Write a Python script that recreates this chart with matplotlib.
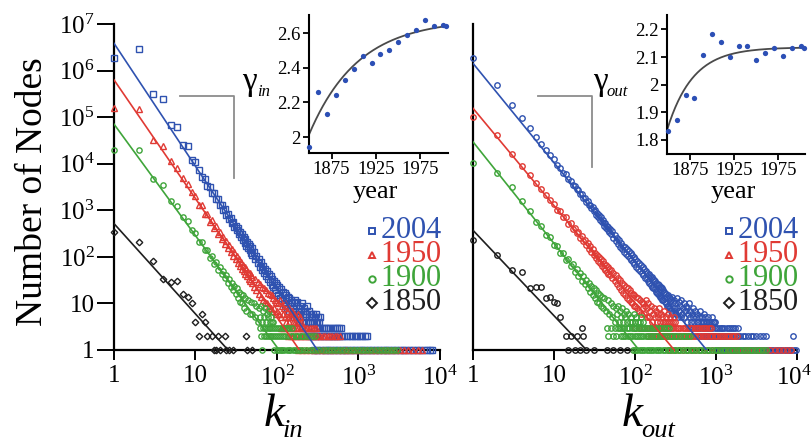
import numpy as np
import matplotlib
matplotlib.use("Agg")
import matplotlib.pyplot as plt
from matplotlib.lines import Line2D
from matplotlib.ticker import NullLocator
from matplotlib.transforms import ScaledTranslation

plt.rcParams.update({
    "font.family": ["Liberation Serif", "DejaVu Serif"],
    "mathtext.fontset": "custom",
    "mathtext.rm": "Liberation Serif",
    "mathtext.it": "Liberation Serif:italic",
    "mathtext.bf": "Liberation Serif:bold",
})

# ---------------- data ----------------
cohorts = [2004, 1950, 1900, 1850]
cohort_colors = ["#2f52b0", "#e03a34", "#3fa53a", "#1e1e1e"]
cohort_markers = ["s", "^", "o", "D"]

# exponent of the degree distribution per year
years = [1850, 1860, 1870, 1880, 1890, 1900, 1910, 1920, 1930, 1940,
         1950, 1960, 1970, 1980, 1990, 2000, 2004]
gamma_in = [1.94, 2.26, 2.135, 2.24, 2.33, 2.395, 2.47, 2.43, 2.477, 2.50,
            2.55, 2.587, 2.62, 2.677, 2.64, 2.645, 2.64]
gamma_out = [1.834, 1.872, 1.962, 1.95, 2.107, 2.182, 2.153, 2.10, 2.141, 2.141,
             2.089, 2.113, 2.131, 2.105, 2.134, 2.141, 2.134]

# saturating fits of gamma(year): (plateau, drop, time constant, start year)
gamma_in_fit = (2.68, 0.66, 55.0, 1850.0)
gamma_out_fit = (2.135, 0.30, 29.0, 1849.0)

# log10 of the power-law prefactor for each cohort (2004, 1950, 1900, 1850)
log_amp_in = [6.585, 5.80, 4.85, 2.714]
log_amp_out = [6.155, 5.19, 4.47, 2.57]

# ---- in-degree: (k, number of nodes); *_n3/_n2/_n1 = degrees held by 3/2/1 nodes
in_2004 = [(1, 1900000), (2, 2900000), (3, 310000), (4, 250000), (5, 69000), (6, 62000),
           (7, 25000), (8, 24000), (9, 12000), (10, 11000), (11, 7300), (12, 5100),
           (13, 4700), (14, 3400), (15, 3200), (16, 2400), (17, 2300), (18, 1750),
           (19, 1720), (20, 1320), (21, 1300), (22, 1020), (23, 1050), (24, 810),
           (25, 830), (26, 650), (27, 680), (28, 530), (29, 560), (30, 440), (31, 470),
           (32, 370), (33, 410), (34, 310), (35, 350), (36, 270), (37, 310), (38, 225),
           (39, 270), (40, 200), (41, 240), (42, 175), (43, 210), (44, 155), (45, 190),
           (46, 138), (47, 170), (48, 124), (49, 152), (50, 110), (52, 130), (54, 90),
           (56, 106), (58, 74), (60, 90), (62, 62), (64, 77), (66, 52), (68, 64), (70, 45),
           (72, 56), (74, 38), (76, 49), (78, 33), (80, 43), (82, 29), (84, 38), (86, 25),
           (88, 34), (90, 22), (92, 30), (94, 19), (96, 27), (98, 17), (100, 25), (103, 15),
           (106, 22), (109, 13), (112, 20), (115, 12), (118, 18), (121, 10), (124, 17),
           (127, 9), (130, 15), (133, 8), (136, 14), (139, 7), (142, 13), (145, 8),
           (148, 12), (151, 6), (154, 11), (157, 7), (160, 10), (163, 5), (166, 12),
           (169, 6), (172, 9), (175, 5), (178, 11), (181, 6), (184, 8), (187, 4), (190, 9),
           (194, 5), (198, 7), (202, 10), (206, 4), (210, 6), (214, 8), (218, 5), (222, 7),
           (226, 4), (230, 6), (235, 9), (240, 4), (245, 5), (250, 7), (255, 4), (260, 6),
           (266, 5), (272, 4), (278, 6), (284, 4), (290, 5), (297, 4), (304, 6), (311, 4),
           (318, 5), (326, 4), (334, 5)]
in_2004_n3 = [201, 223, 241, 263, 287, 309, 331, 353, 377, 401, 427, 453, 481, 511, 543,
              577, 613]
in_2004_n2 = [253, 279, 303, 341, 367, 397, 431, 467, 503, 541, 583, 627, 673, 723, 777,
              835, 897, 963, 1033, 1109, 1191, 1279]
in_2004_n1 = [283, 313, 347, 383, 421, 463, 509, 561, 619, 681, 751, 827, 911, 1003, 1105,
              1217, 1341, 1477, 1627, 1791, 1973, 2173, 2393, 2635, 2903, 3197, 3521, 3877,
              4271, 4703, 5179, 5703, 6281, 6917, 7617, 8011]

in_1950 = [(1, 160000), (2, 150000), (3, 33000), (4, 24000), (5, 11500), (6, 8000),
           (7, 5000), (8, 3700), (9, 2500), (10, 2000), (11, 1300), (12, 1280), (13, 850),
           (14, 850), (15, 560), (16, 610), (17, 410), (18, 450), (19, 310), (20, 345),
           (21, 240), (22, 270), (23, 190), (24, 218), (25, 155), (26, 178), (27, 128),
           (28, 148), (29, 105), (30, 125), (31, 88), (32, 106), (33, 75), (34, 90),
           (35, 64), (36, 78), (37, 56), (38, 68), (39, 50), (40, 60), (41, 43), (42, 54),
           (43, 38), (44, 48), (45, 33), (46, 44), (47, 30), (48, 40), (49, 27), (50, 37),
           (52, 23), (54, 33), (56, 19), (58, 29), (60, 16), (62, 26), (64, 14), (66, 23),
           (68, 12), (70, 21), (72, 11), (74, 19), (76, 10), (78, 17), (80, 9), (82, 16),
           (84, 8), (86, 15), (88, 7), (90, 13), (92, 8), (94, 12), (96, 6), (98, 11),
           (100, 7), (103, 10), (106, 6), (109, 12), (112, 5), (115, 9), (118, 6), (121, 8),
           (124, 5), (127, 10), (130, 4), (133, 7), (136, 5), (139, 8), (142, 4), (146, 6),
           (150, 5), (154, 7), (158, 4), (162, 6), (166, 4), (170, 5), (175, 4), (180, 6),
           (185, 4), (190, 5), (196, 4)]
in_1950_n3 = [111, 119, 131, 141, 151, 161, 171, 183, 195, 207, 221, 235, 251, 267, 285, 305]
in_1950_n2 = [135, 147, 157, 167, 177, 189, 199, 213, 227, 243, 259, 277, 297, 317, 339, 363,
              389, 417, 447, 479, 513, 549, 589]
in_1950_n1 = [179, 203, 229, 253, 283, 313, 353, 393, 443, 493, 553, 623, 703, 793, 893,
              1003, 1133, 1273, 1433, 1603, 1803, 2003, 2253, 2503, 2803, 3203, 3603, 4103,
              4703, 5303, 6003]

in_1900 = [(1, 20000), (2, 19500), (3, 4600), (4, 3500), (5, 1600), (6, 1250), (7, 700),
           (8, 600), (9, 380), (10, 320), (11, 210), (12, 205), (13, 140), (14, 142),
           (15, 96), (16, 104), (17, 70), (18, 79), (19, 53), (20, 61), (21, 43), (22, 49),
           (23, 35), (24, 40), (25, 28), (26, 33), (27, 23), (28, 28), (29, 19), (30, 24),
           (31, 16), (32, 21), (33, 13), (34, 18), (35, 11), (36, 16), (37, 10), (38, 15),
           (39, 8), (40, 13), (42, 7), (44, 12), (46, 6), (48, 11), (50, 6), (52, 10),
           (54, 5), (56, 9), (58, 4), (60, 8), (62, 5), (64, 9), (66, 4), (68, 7), (70, 5),
           (72, 8), (74, 4), (76, 6), (78, 5), (80, 7), (82, 4), (84, 5), (86, 4), (90, 4)]
in_1900_n3 = [61, 67, 71, 75, 79, 83, 87, 93, 97, 103, 109, 117, 125, 133, 141, 151]
in_1900_n2 = [63, 69, 73, 77, 81, 85, 89, 95, 99, 105, 111, 119, 127, 137, 147, 157, 169,
              181, 195, 211, 229, 249, 271, 295]
in_1900_n1 = [65, 91, 101, 107, 113, 115, 121, 131, 139, 145, 155, 165, 175, 185, 199, 215,
              231, 251, 275, 301, 331, 363, 397, 433, 473, 517, 565, 617, 673, 735, 803, 877,
              957, 1045, 1141, 1245, 1359, 1483, 1619, 1767, 1929, 2105, 2297, 2507, 2737,
              2987]

in_1850 = [(1, 340), (2, 210), (3, 82), (4, 34), (5, 29), (6, 30), (7, 16), (8, 14), (9, 10),
           (10, 4), (12, 6), (13, 4)]
in_1850_n3 = []
in_1850_n2 = [11, 14, 16, 19, 23, 42]
in_1850_n1 = [17, 18, 20, 24, 26, 29, 43, 49]

# ---- out-degree
out_2004 = [(1, 1900000), (2, 490000), (3, 180000), (4, 98000), (5, 58000), (6, 38000),
            (7, 26000), (8, 20000), (9, 15500), (10, 12500), (11, 9400), (12, 7900),
            (13, 6300), (14, 5900), (15, 4600), (16, 4300), (17, 3500), (18, 3400),
            (19, 2800), (20, 2700), (21, 2200), (22, 2200), (23, 1850), (24, 1850),
            (25, 1500), (26, 1560), (27, 1280), (28, 1330), (29, 1100), (30, 1150),
            (31, 960), (32, 1000), (33, 800), (34, 880), (35, 700), (36, 780), (37, 630),
            (38, 700), (39, 560), (40, 620), (41, 540), (42, 470), (43, 530), (44, 420),
            (45, 470), (46, 380), (47, 440), (48, 340), (49, 400), (50, 310), (52, 360),
            (54, 260), (56, 300), (58, 220), (60, 260), (62, 190), (64, 230), (66, 165),
            (68, 200), (70, 145), (72, 175), (74, 130), (76, 160), (78, 115), (80, 145),
            (82, 103), (84, 132), (86, 95), (88, 120), (90, 85), (92, 110), (94, 78),
            (96, 100), (98, 72), (100, 92), (103, 62), (106, 82), (109, 56), (112, 75),
            (115, 50), (118, 66), (121, 44), (124, 60), (127, 40), (130, 55), (133, 36),
            (136, 50), (139, 33), (142, 46), (145, 30), (148, 43), (151, 28), (154, 39),
            (157, 25), (160, 37), (163, 23), (166, 34), (169, 21), (172, 32), (175, 20),
            (178, 30), (181, 18), (184, 28), (187, 17), (190, 26), (193, 16), (196, 25),
            (199, 15), (202, 23), (205, 14), (208, 22), (211, 13), (214, 21), (217, 12),
            (220, 19), (224, 12), (228, 18), (232, 11), (236, 17), (240, 10), (244, 16),
            (248, 9), (252, 15), (256, 9), (260, 14), (264, 8), (268, 13), (272, 8),
            (276, 12), (280, 7), (285, 14), (290, 6), (295, 11), (300, 8), (305, 12),
            (310, 7), (316, 10), (322, 6), (328, 13), (334, 8), (340, 5), (347, 11),
            (354, 7), (361, 9), (368, 5), (375, 12), (383, 6), (391, 8), (399, 10),
            (407, 5), (415, 7), (424, 9), (433, 4), (442, 8), (451, 6), (461, 10), (471, 5),
            (481, 7), (492, 4), (503, 6), (514, 8), (526, 5), (538, 4), (550, 7), (563, 5),
            (576, 4), (590, 6), (604, 4), (619, 5), (634, 7), (650, 4), (667, 5), (684, 4),
            (702, 6), (720, 4), (740, 5), (760, 4), (782, 4), (805, 5), (830, 4), (856, 4),
            (884, 5), (914, 4), (946, 4), (980, 4)]
out_2004_n3 = [470, 520, 560, 600, 640, 690, 730, 770, 820, 870, 900, 960, 1020, 1080, 1140,
               1200, 1270, 1350, 1430, 1520, 1620, 1730, 1850]
out_2004_n2 = [580, 660, 710, 750, 800, 850, 890, 930, 970, 1010, 1050, 1100, 1160, 1220,
               1290, 1370, 1450, 1540, 1640, 1750, 1870, 2000, 2150, 2300, 2480, 2680, 2900,
               3150, 3450, 3800, 4200, 8900]
out_2004_n1 = [1003, 1063, 1127, 1191, 1257, 1331, 1409, 1493, 1583, 1679, 1781, 1889, 2003,
               2129, 2263, 2407, 2561, 2723, 2897, 3083, 3281, 3491, 3719, 3961, 4217, 4493,
               4787, 5101, 5437, 5797, 6181, 6593, 7031, 7499, 8003, 8539, 9113, 9727]

out_1950 = [(1, 100000), (2, 42000), (3, 16500), (4, 9000), (5, 5800), (6, 3900), (7, 2800),
            (8, 2100), (9, 1650), (10, 1350), (11, 1000), (12, 950), (13, 700), (14, 700),
            (15, 520), (16, 530), (17, 400), (18, 415), (19, 320), (20, 335), (21, 260),
            (22, 275), (23, 215), (24, 230), (25, 180), (26, 195), (27, 150), (28, 168),
            (29, 130), (30, 145), (31, 112), (32, 122), (33, 95), (34, 108), (35, 82),
            (36, 98), (37, 74), (38, 88), (39, 65), (40, 80), (41, 58), (42, 72), (43, 53),
            (44, 66), (45, 47), (46, 62), (47, 43), (48, 56), (49, 40), (50, 52), (52, 35),
            (54, 46), (56, 31), (58, 41), (60, 26), (62, 36), (64, 22), (66, 32), (68, 19),
            (70, 28), (72, 17), (74, 25), (76, 15), (78, 23), (80, 13), (82, 21), (84, 12),
            (86, 19), (88, 11), (90, 17), (92, 10), (94, 16), (96, 9), (98, 15), (100, 9),
            (103, 14), (106, 8), (109, 13), (112, 7), (115, 12), (118, 6), (121, 11),
            (124, 8), (127, 10), (130, 6), (133, 9), (136, 12), (139, 5), (142, 8),
            (146, 10), (150, 5), (154, 7), (158, 9), (162, 4), (166, 6), (170, 8), (175, 5),
            (180, 7), (185, 4), (190, 6), (195, 5), (200, 8), (206, 4), (212, 6), (218, 5),
            (224, 4), (230, 7), (237, 4), (244, 5), (251, 4), (258, 6), (266, 4), (274, 5),
            (282, 4), (291, 4), (300, 5), (310, 4)]
out_1950_n3 = [101, 113, 123, 131, 141, 153, 161, 173, 183, 193, 203, 221, 233, 249, 263, 279,
               297, 317, 339, 361, 387, 413, 443, 473, 507, 543, 581, 621, 667, 713, 763, 817,
               877]
out_1950_n2 = [145, 157, 169, 179, 189, 199, 209, 227, 241, 255, 271, 287, 305, 325, 347, 371,
               397, 425, 455, 487, 521, 557, 597, 639, 685, 733, 785, 841, 901, 965, 1033,
               1107, 1187, 1271, 1361, 1459, 1563, 1675, 1795]
out_1950_n1 = [253, 281, 311, 351, 391, 441, 491, 551, 623, 701, 791, 891, 1001, 1131, 1277,
               1431, 1601, 1801, 2001, 2251, 2501, 2801, 3201, 3601, 4101, 4701, 5301, 6001,
               6801, 7601, 8501]

out_1900 = [(1, 10500), (2, 6200), (3, 3100), (4, 1600), (5, 950), (6, 560), (7, 470),
            (8, 290), (9, 270), (10, 180), (11, 175), (12, 120), (13, 122), (14, 84),
            (15, 90), (16, 63), (17, 70), (18, 48), (19, 55), (20, 38), (21, 44), (22, 31),
            (23, 38), (24, 26), (25, 32), (26, 21), (27, 28), (28, 18), (29, 24), (30, 15),
            (31, 21), (32, 13), (33, 19), (34, 11), (35, 17), (36, 10), (37, 15), (38, 9),
            (39, 14), (40, 8), (42, 13), (44, 7), (46, 12), (48, 6), (50, 10), (52, 5),
            (54, 9), (56, 4), (58, 8), (60, 6), (62, 9), (64, 4), (66, 7), (68, 5), (70, 8),
            (72, 4), (74, 6), (76, 5), (78, 7), (80, 4), (83, 6), (86, 4), (89, 5), (92, 4),
            (96, 6), (100, 4), (104, 5), (108, 4), (114, 4), (120, 5), (126, 4)]
out_1900_n3 = [45, 51, 57, 61, 65, 69, 73, 79, 85, 91, 97, 103, 111, 117, 125, 133, 141, 151,
               161, 171, 183, 197, 211, 227, 245, 263]
out_1900_n2 = [47, 53, 59, 67, 71, 75, 81, 87, 93, 99, 105, 113, 119, 127, 135, 143, 153, 163,
               175, 187, 201, 215, 231, 249, 267, 287, 309, 333, 359, 387, 417, 449, 483]
out_1900_n1 = [95, 101, 107, 115, 121, 131, 139, 149, 159, 169, 181, 193, 205, 219, 235, 253,
               271, 291, 313, 337, 363, 391, 421, 453, 489, 527, 569, 613, 661, 713, 769, 829,
               895, 965, 1041, 1123, 1211, 1307, 1411, 1523, 1643, 1773, 1913, 2063, 2227,
               2403, 2593, 2799, 3021, 3261, 3519, 3799, 4101]

out_1850 = [(1, 226), (2, 112), (3, 53), (4, 47), (5, 21), (6, 23), (7, 22), (8, 13), (9, 14),
            (10, 11), (11, 10), (12, 5)]
out_1850_n3 = [22]
out_1850_n2 = [14, 16, 19, 23]
out_1850_n1 = [15, 18, 21, 25, 31, 45, 54, 65, 79]

k_ticks = [1, 10, 100, 1000, 10000]
k_tick_labels = ["1", "10", "$10^2$", "$10^3$", "$10^4$"]
n_ticks = [1, 10, 1e2, 1e3, 1e4, 1e5, 1e6, 1e7]
n_tick_labels = ["1", "10", "$10^2$", "$10^3$", "$10^4$", "$10^5$", "$10^6$", "$10^7$"]
year_ticks = [1875, 1925, 1975]
gin_ticks = [2.0, 2.2, 2.4, 2.6]
gin_tick_labels = ["2", "2.2", "2.4", "2.6"]
gout_ticks = [1.8, 1.9, 2.0, 2.1, 2.2]
gout_tick_labels = ["1.8", "1.9", "2", "2.1", "2.2"]

# ---------------- figure ----------------
W, H = 812, 443
fig = plt.figure(figsize=(W / 100, H / 100), dpi=100)
fig.patch.set_facecolor("white")


def rect(x0, y0, x1, y1):
    """pixel box (top-left origin) -> figure-fraction rectangle"""
    return [x0 / W, 1 - y1 / H, (x1 - x0) / W, (y1 - y0) / H]


def fx(x):
    return x / W


def fy(y):
    return 1 - y / H


def setup_main(ax, show_y):
    ax.set_xscale("log")
    ax.set_yscale("log")
    ax.set_xlim(1, 1e4)
    ax.set_ylim(1, 1e7)
    for s in ("top", "right"):
        ax.spines[s].set_visible(False)
    for s in ("left", "bottom"):
        ax.spines[s].set_linewidth(1.6)
        ax.spines[s].set_zorder(2)
    ax.set_xticks(k_ticks, k_tick_labels)
    ax.xaxis.set_minor_locator(NullLocator())
    ax.yaxis.set_minor_locator(NullLocator())
    ax.tick_params(axis="x", length=7, width=1.4, direction="out", labelsize=18, pad=4)
    if show_y:
        ax.set_yticks(n_ticks, n_tick_labels)
        ax.tick_params(axis="y", length=12, width=1.4, direction="out", labelsize=18, pad=2)
    else:
        ax.set_yticks([])
    ax.patch.set_alpha(0)


def draw_series(ax, pts, n3, n2, n1, log_amp, gamma, color, marker, ms):
    k = [p[0] for p in pts] + list(n3) + list(n2) + list(n1)
    n = [p[1] for p in pts] + [3] * len(n3) + [2] * len(n2) + [1] * len(n1)
    ax.plot(k, n, ls="none", marker=marker, ms=ms, mfc="none", mec=color, mew=1.0,
            clip_on=False, zorder=3)
    kk = np.logspace(0, 4, 300)
    ax.plot(kk, 10 ** log_amp * kk ** (-gamma), color=color, lw=1.2, zorder=4)


g_in = dict(zip(years, gamma_in))
g_out = dict(zip(years, gamma_out))

ax_in = fig.add_axes(rect(114, 24, 440, 350))
ax_out = fig.add_axes(rect(473, 24, 797, 350))
setup_main(ax_in, True)
setup_main(ax_out, False)

# keep the last k label of the right panel inside the canvas
last_label = ax_out.get_xticklabels()[-1]
last_label.set_transform(last_label.get_transform()
                         + ScaledTranslation(-3 / 100, 0, fig.dpi_scale_trans))

in_sets = [(in_2004, in_2004_n3, in_2004_n2, in_2004_n1),
           (in_1950, in_1950_n3, in_1950_n2, in_1950_n1),
           (in_1900, in_1900_n3, in_1900_n2, in_1900_n1),
           (in_1850, in_1850_n3, in_1850_n2, in_1850_n1)]
out_sets = [(out_2004, out_2004_n3, out_2004_n2, out_2004_n1),
            (out_1950, out_1950_n3, out_1950_n2, out_1950_n1),
            (out_1900, out_1900_n3, out_1900_n2, out_1900_n1),
            (out_1850, out_1850_n3, out_1850_n2, out_1850_n1)]
in_sizes = [3.7, 3.9, 3.8, 3.3]

for i, yr in enumerate(cohorts):
    draw_series(ax_in, *in_sets[i], log_amp_in[i], g_in[yr], cohort_colors[i],
                cohort_markers[i], in_sizes[i])
    draw_series(ax_out, *out_sets[i], log_amp_out[i], g_out[yr], cohort_colors[i],
                "o", 3.9)

# axis titles
fig.text(fx(33), fy(192), "Number of Nodes", rotation=90, fontsize=27,
         ha="center", va="center")
fig.text(fx(264), fy(426), "k", fontsize=34, style="italic", ha="left", va="baseline")
fig.text(fx(283), fy(437), "in", fontsize=19, style="italic", ha="left", va="baseline")
fig.text(fx(622), fy(426), "k", fontsize=34, style="italic", ha="left", va="baseline")
fig.text(fx(641), fy(437), "out", fontsize=19, style="italic", ha="left", va="baseline")

# legends (mathtext keeps each label's box tight to the digits)
legend_rows = [231, 255, 279, 303]
for xm, xt in ((372, 380), (729, 737)):
    for i, yr in enumerate(cohorts):
        fig.add_artist(Line2D([fx(xm)], [fy(legend_rows[i])], transform=fig.transFigure,
                              marker=cohort_markers[i], ms=4.6, mfc="none",
                              mec=cohort_colors[i], mew=1.4, ls="none"))
        fig.text(fx(xt), fy(legend_rows[i]), "$\\mathrm{%d}$" % yr, color=cohort_colors[i],
                 fontsize=22, ha="left", va="center")

# brackets pointing to the exponent insets
bracket_color = "#8c8c8c"
fig.add_artist(Line2D([fx(180), fx(234), fx(234)], [fy(96), fy(96), fy(178)],
                      transform=fig.transFigure, color=bracket_color, lw=1.3))
fig.add_artist(Line2D([fx(538), fx(592), fx(592)], [fy(96), fy(96), fy(167)],
                      transform=fig.transFigure, color=bracket_color, lw=1.3))
fig.text(fx(242), fy(90), "\u03b3", fontsize=24, ha="left", va="baseline")
fig.text(fx(257), fy(96), "in", fontsize=12, style="italic", ha="left", va="baseline")
fig.text(fx(593), fy(90), "\u03b3", fontsize=24, ha="left", va="baseline")
fig.text(fx(607), fy(96), "out", fontsize=12, style="italic", ha="left", va="baseline")


def saturating(t, fit):
    plateau, drop, tau, t0 = fit
    return plateau - drop * np.exp(-(t - t0) / tau)


def setup_inset(box, xlim, ylim, yticks, ylabels, gammas, fit):
    ax = fig.add_axes(rect(*box))
    ax.set_xlim(*xlim)
    ax.set_ylim(*ylim)
    for s in ("top", "right"):
        ax.spines[s].set_visible(False)
    for s in ("left", "bottom"):
        ax.spines[s].set_linewidth(1.5)
    ax.set_xticks(year_ticks, [str(y) for y in year_ticks])
    ax.set_yticks(yticks, ylabels)
    ax.tick_params(length=4, width=1.3, direction="out", labelsize=13.5, pad=2)
    t = np.linspace(xlim[0], xlim[1], 200)
    ax.plot(t, saturating(t, fit), color="#4a4a4a", lw=1.3, zorder=2)
    ax.plot(years, gammas, ls="none", marker="o", ms=3.8, color="#2c4fb5", mec="none",
            clip_on=False, zorder=3)
    ax.patch.set_alpha(0)
    return ax


setup_inset((309, 15, 448, 153), (1849.5, 2006), (1.908, 2.704), gin_ticks,
            gin_tick_labels, gamma_in, gamma_in_fit)
setup_inset((667, 15, 805, 154), (1849, 2005), (1.749, 2.252), gout_ticks,
            gout_tick_labels, gamma_out, gamma_out_fit)
fig.text(fx(375), fy(192), "year", fontsize=19, ha="center", va="center")
fig.text(fx(733), fy(192), "year", fontsize=19, ha="center", va="center")

fig.savefig("out.png", dpi=100, facecolor="white")
